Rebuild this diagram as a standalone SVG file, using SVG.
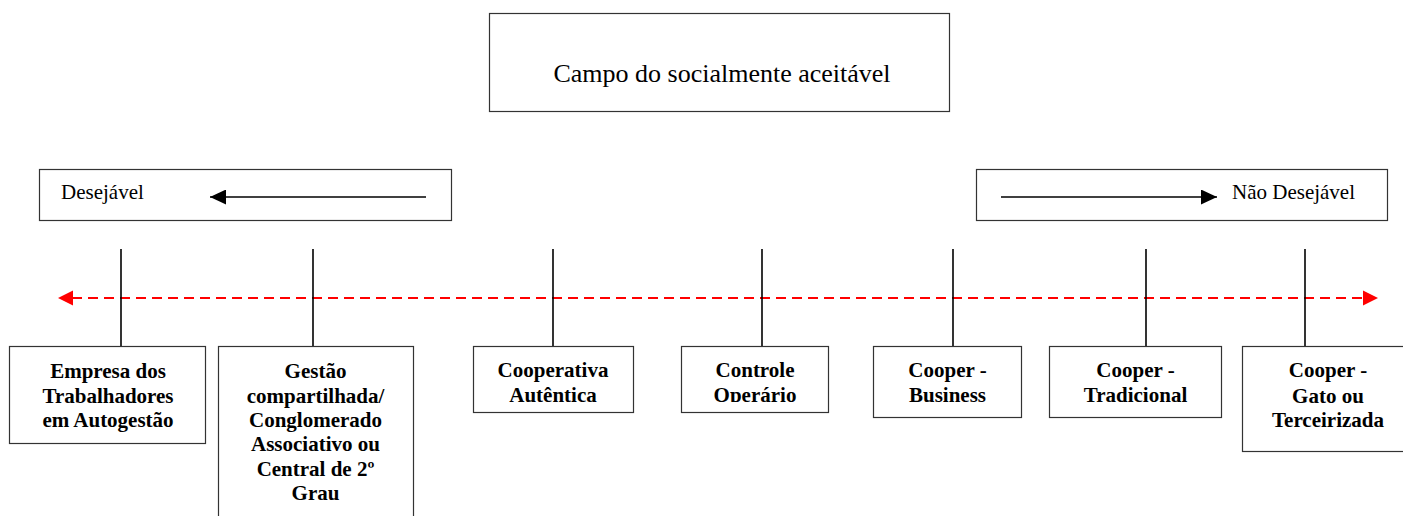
<svg xmlns="http://www.w3.org/2000/svg" width="1403" height="516" viewBox="0 0 1403 516">
  <style>
    .box { fill: #ffffff; stroke: #333333; stroke-width: 1.2; }
    .lbl { font-family: "Liberation Serif", "Times New Roman", serif; fill: #000000; }
    .node { font-family: "Liberation Serif", "Times New Roman", serif; font-weight: bold; font-size: 21px; fill: #000000; text-anchor: middle; }
    .stem { stroke: #000000; stroke-width: 1.6; }
    .dir { stroke: #000000; stroke-width: 1.6; fill: none; }
    .axis { stroke: #ff0000; stroke-width: 2; stroke-dasharray: 10 6; fill: none; }
  </style>
  <defs>
    <marker id="blackHead" viewBox="0 0 16 15" refX="16" refY="7.5" markerWidth="16" markerHeight="15" markerUnits="userSpaceOnUse" orient="auto">
      <path d="M0,0 L16,7.5 L0,15 Z" fill="#000000"/>
    </marker>
    <marker id="redHead" viewBox="0 0 15 15" refX="15" refY="7.5" markerWidth="15" markerHeight="15" markerUnits="userSpaceOnUse" orient="auto">
      <path d="M0,0 L15,7.5 L0,15 Z" fill="#ff0000"/>
    </marker>
    <clipPath id="clip3"><rect x="473" y="346" width="160" height="57"/></clipPath>
    <clipPath id="clip4"><rect x="681" y="346" width="148" height="56"/></clipPath>
  </defs>
  <rect width="1403" height="516" fill="#ffffff"/>

  <g id="campo">
    <rect class="box" x="489.5" y="13.5" width="460" height="98"/>
    <text class="lbl" x="722" y="82" font-size="26" text-anchor="middle">Campo do socialmente aceitável</text>
  </g>

  <g id="desejavel">
    <rect class="box" x="39.5" y="169.5" width="412" height="51"/>
    <text class="lbl" x="61" y="199" font-size="21">Desejável</text>
  </g>

  <g id="nao-desejavel">
    <rect class="box" x="976.5" y="169.5" width="411" height="51"/>
    <text class="lbl" x="1232" y="199" font-size="21">Não Desejável</text>
  </g>

  <g id="connectors">
    <line class="dir" x1="426" y1="197" x2="210" y2="197" marker-end="url(#blackHead)"/>
    <line class="dir" x1="1001" y1="197" x2="1217" y2="197" marker-end="url(#blackHead)"/>
    <line class="axis" x1="1362" y1="298" x2="73" y2="298"/>
    <path d="M58,298 L73,290.5 L73,305.5 Z" fill="#ff0000"/>
    <path d="M1378,298 L1363,290.5 L1363,305.5 Z" fill="#ff0000"/>
    <line class="stem" x1="121" y1="249" x2="121" y2="346"/>
    <line class="stem" x1="313" y1="249" x2="313" y2="346"/>
    <line class="stem" x1="553" y1="249" x2="553" y2="346"/>
    <line class="stem" x1="762" y1="249" x2="762" y2="346"/>
    <line class="stem" x1="953" y1="249" x2="953" y2="346"/>
    <line class="stem" x1="1146" y1="249" x2="1146" y2="346"/>
    <line class="stem" x1="1305" y1="249" x2="1305" y2="346"/>
  </g>

  <g id="empresa">
    <rect class="box" x="9.5" y="346.5" width="196" height="97"/>
    <text class="node" x="108" y="378">Empresa dos</text>
    <text class="node" x="108" y="402.5">Trabalhadores</text>
    <text class="node" x="108" y="427">em Autogestão</text>
  </g>

  <g id="gestao">
    <rect class="box" x="218.5" y="346.5" width="195" height="180"/>
    <text class="node" x="315.5" y="378">Gestão</text>
    <text class="node" x="315.5" y="402.5">compartilhada/</text>
    <text class="node" x="315.5" y="427">Conglomerado</text>
    <text class="node" x="315.5" y="451">Associativo ou</text>
    <text class="node" x="315.5" y="475.5">Central de 2º</text>
    <text class="node" x="315.5" y="500">Grau</text>
  </g>

  <g id="cooperativa">
    <rect class="box" x="473.5" y="346.5" width="160" height="66"/>
    <g clip-path="url(#clip3)">
      <text class="node" x="553" y="377">Cooperativa</text>
      <text class="node" x="553" y="402">Autêntica</text>
    </g>
  </g>

  <g id="controle">
    <rect class="box" x="681.5" y="346.5" width="147" height="66"/>
    <g clip-path="url(#clip4)">
      <text class="node" x="755" y="377">Controle</text>
      <text class="node" x="755" y="402">Operário</text>
    </g>
  </g>

  <g id="business">
    <rect class="box" x="873.5" y="346.5" width="148" height="71"/>
    <text class="node" x="947.5" y="377">Cooper -</text>
    <text class="node" x="947.5" y="402">Business</text>
  </g>

  <g id="tradicional">
    <rect class="box" x="1049.5" y="346.5" width="172" height="71"/>
    <text class="node" x="1135.5" y="377">Cooper -</text>
    <text class="node" x="1135.5" y="402">Tradicional</text>
  </g>

  <g id="gato">
    <rect class="box" x="1242.5" y="346.5" width="172" height="105"/>
    <text class="node" x="1328" y="377">Cooper -</text>
    <text class="node" x="1328" y="402.5">Gato ou</text>
    <text class="node" x="1328" y="427">Terceirizada</text>
  </g>
</svg>
